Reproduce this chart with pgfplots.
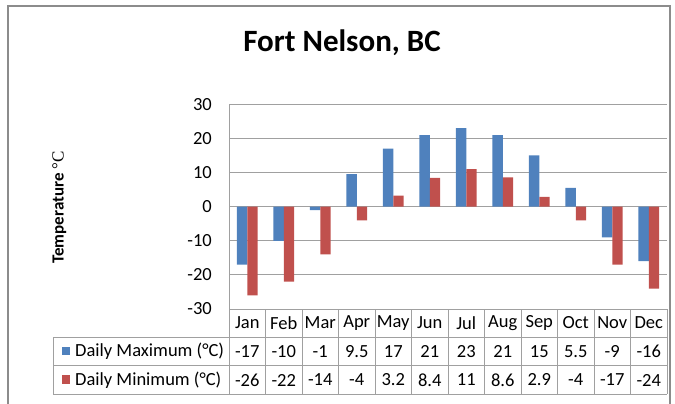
\documentclass[border=0pt]{standalone}
\usepackage{pgfplots}
\pgfplotsset{compat=1.18}
\usepackage{fontspec}
\setmainfont{Carlito}
\newfontfamily\seriffont{Liberation Serif}
\definecolor{xlblue}{HTML}{4F81BD}
\definecolor{xlred}{HTML}{C0504D}
\definecolor{xlgrid}{HTML}{A0A0A0}
\definecolor{xlframe}{HTML}{8C8C8C}
\newcommand{\tbl}{\fontsize{18.5}{20}\selectfont}
\begin{document}
\begin{tikzpicture}
\useasboundingbox (0pt,0pt) rectangle (675pt,-404pt);
\draw[xlframe, line width=1.2pt] (8pt,-420pt) -- (8pt,-6pt) -- (670pt,-6pt) -- (670pt,-420pt);
\node[anchor=base, font=\fontsize{31}{34}\selectfont\bfseries] at (342pt,-51.7pt) {Fort Nelson, BC};
\node[anchor=base, rotate=90, font=\fontsize{17}{18}\selectfont] at (63.5pt,-207.5pt) {\textbf{Temperature} {\seriffont °C}};
\begin{axis}[
  at={(229pt,-309pt)}, anchor=south west,
  scale only axis, width=438pt, height=204.7pt,
  xmin=0.5, xmax=12.5, ymin=-30, ymax=30,
  ytick={-30,-20,...,30}, xtick=\empty,
  ymajorgrids, grid style={xlgrid, line width=1pt},
  axis line style={draw=none},
  major tick length=0pt,
  ybar=0pt, bar width=10.4pt,
  yticklabel style={font=\tbl, anchor=east, inner sep=0pt, xshift=-17pt},
  /pgf/number format/assume math mode=true,
]
\addplot[fill=xlblue, draw=none] coordinates {(1,-17) (2,-10) (3,-1) (4,9.5) (5,17) (6,21) (7,23) (8,21) (9,15) (10,5.5) (11,-9) (12,-16)};
\addplot[fill=xlred, draw=none] coordinates {(1,-26) (2,-22) (3,-14) (4,-4) (5,3.2) (6,8.4) (7,11) (8,8.6) (9,2.9) (10,-4) (11,-17) (12,-24)};
\end{axis}
% data table
\begin{scope}[xlgrid, line width=1pt]
\draw (229pt,-104.3pt) -- (229pt,-394pt);
\draw (53pt,-337.3pt) -- (667pt,-337.3pt);
\draw (53pt,-365.7pt) -- (667pt,-365.7pt);
\draw (53pt,-394pt) -- (667pt,-394pt);
\draw (53pt,-337.3pt) -- (53pt,-394pt);
\draw (667pt,-309pt) -- (667pt,-394pt);
\foreach \k in {1,...,11} \draw ({229pt+36.5pt*\k},-309pt) -- ({229pt+36.5pt*\k},-394pt);
\end{scope}
\foreach \m [count=\i] in {Jan,Feb,Mar,Apr,May,Jun,Jul,Aug,Sep,Oct,Nov,Dec}
  \node[font=\tbl] at ({229pt+36.5pt*(\i-0.5)},-323pt) {\m};
\foreach \v [count=\i] in {-17,-10,-1,9.5,17,21,23,21,15,5.5,-9,-16}
  \node[font=\tbl] at ({229pt+36.5pt*(\i-0.5)},-351.5pt) {\v};
\foreach \v [count=\i] in {-26,-22,-14,-4,3.2,8.4,11,8.6,2.9,-4,-17,-24}
  \node[font=\tbl] at ({229pt+36.5pt*(\i-0.5)},-380pt) {\v};
\fill[xlblue] (62pt,-346.5pt) rectangle (70pt,-355pt);
\fill[xlred] (62pt,-375pt) rectangle (70pt,-383.5pt);
\node[font=\tbl, anchor=west, inner sep=0pt] at (75pt,-351.5pt) {Daily Maximum (°C)};
\node[font=\tbl, anchor=west, inner sep=0pt] at (75pt,-380pt) {Daily Minimum (°C)};
\end{tikzpicture}
\end{document}
